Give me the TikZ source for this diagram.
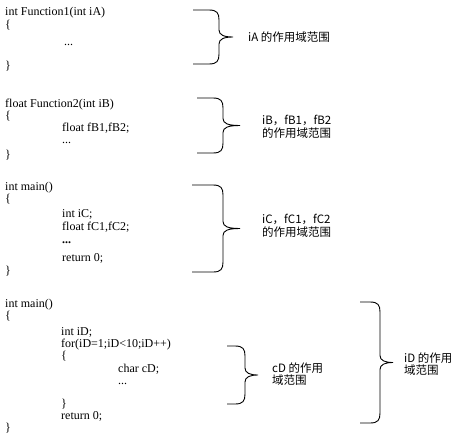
\documentclass[tikz,border=0pt]{standalone}
\usepackage{fontspec}
\setmainfont{Liberation Serif}
\newfontfamily\cjk{Noto Sans CJK SC}
\tikzset{
  codeline/.style={
    anchor=west,
    inner sep=0pt,
    text height=8.5pt,
    text depth=2.5pt,
    font=\fontsize{12}{12}\selectfont
  },
  scopelabel/.style={
    anchor=west,
    inner sep=0pt,
    align=left,
    font=\cjk\fontsize{11.5}{12.5}\selectfont
  },
  bracestyle/.style={
    draw=black,
    line width=0.9pt
  }
}
% x0, xv, xt, ytop, ymid, ybot
\newcommand{\rangebrace}[6]{%
  \draw[bracestyle] (#1,#4) -- ({#2-10},#4)
    .. controls ({#2-2},#4) and (#2,{#4+3}) .. (#2,{#4+10})
    -- (#2,{#5-7})
    .. controls (#2,{#5-2}) and ({#2+5},#5) .. (#3,#5)
    .. controls ({#2+5},#5) and (#2,{#5+2}) .. (#2,{#5+7})
    -- (#2,{#6-10})
    .. controls (#2,{#6-3}) and ({#2-2},#6) .. ({#2-10},#6)
    -- (#1,#6);%
}

\begin{document}
\begin{tikzpicture}[x=1pt,y=-1pt]
  \useasboundingbox (0,0) rectangle (458,442);

  % Function1
  \node[codeline] (A-head) at (5,12) {int Function1(int iA)};
  \node[codeline] (A-open) at (5,25) {\{};
  \node[codeline] (A-dots) at (64,42) {...};
  \node[codeline] (A-close) at (5,66) {\}};
  \rangebrace{193}{219}{233}{10}{37}{64}
  \node[scopelabel] (A-label) at (248,37) {iA 的作用域范围};

  % Function2
  \node[codeline] (B-head) at (5,104) {float Function2(int iB)};
  \node[codeline] (B-open) at (5,116) {\{};
  \node[codeline] (B-decl) at (62,128) {float fB1,fB2;};
  \node[codeline] (B-dots) at (62,140) {...};
  \node[codeline] (B-close) at (5,155) {\}};
  \rangebrace{197}{223}{240}{98}{125.5}{153}
  \node[scopelabel] (B-label) at (262,127) {iB，fB1，fB2\\的作用域范围};

  % main, block C
  \node[codeline] (C-head) at (5,187) {int main()};
  \node[codeline] (C-open) at (5,199) {\{};
  \node[codeline] (C-decl1) at (62,214) {int iC;};
  \node[codeline] (C-decl2) at (62,227) {float fC1,fC2;};
  \node[codeline] (C-dots) at (62,240) {\textbf{...}};
  \node[codeline] (C-ret) at (62,258) {return 0;};
  \node[codeline] (C-close) at (5,271) {\}};
  \rangebrace{192}{223}{240}{185}{228.5}{272}
  \node[scopelabel] (C-label) at (262,226) {iC，fC1，fC2\\的作用域范围};

  % main, block D
  \node[codeline] (D-head) at (5,304) {int main()};
  \node[codeline] (D-open) at (5,316) {\{};
  \node[codeline] (D-decl) at (61,332) {int iD;};
  \node[codeline] (D-for) at (61,344) {for(iD=1;iD<10;iD++)};
  \node[codeline] (D-for-open) at (61,356) {\{};
  \node[codeline] (D-char) at (118,369) {char cD;};
  \node[codeline] (D-dots) at (118,381) {...};
  \node[codeline] (D-for-close) at (61,404) {\}};
  \node[codeline] (D-ret) at (61,416) {return 0;};
  \node[codeline] (D-close) at (5,428) {\}};
  \rangebrace{227}{245}{258}{346}{375}{404}
  \node[scopelabel] (D-inner-label) at (272,374) {cD 的作用\\域范围};
  \rangebrace{360}{380}{393}{302}{362.5}{423}
  \node[scopelabel] (D-outer-label) at (404,364) {iD 的作用\\域范围};
\end{tikzpicture}
\end{document}
